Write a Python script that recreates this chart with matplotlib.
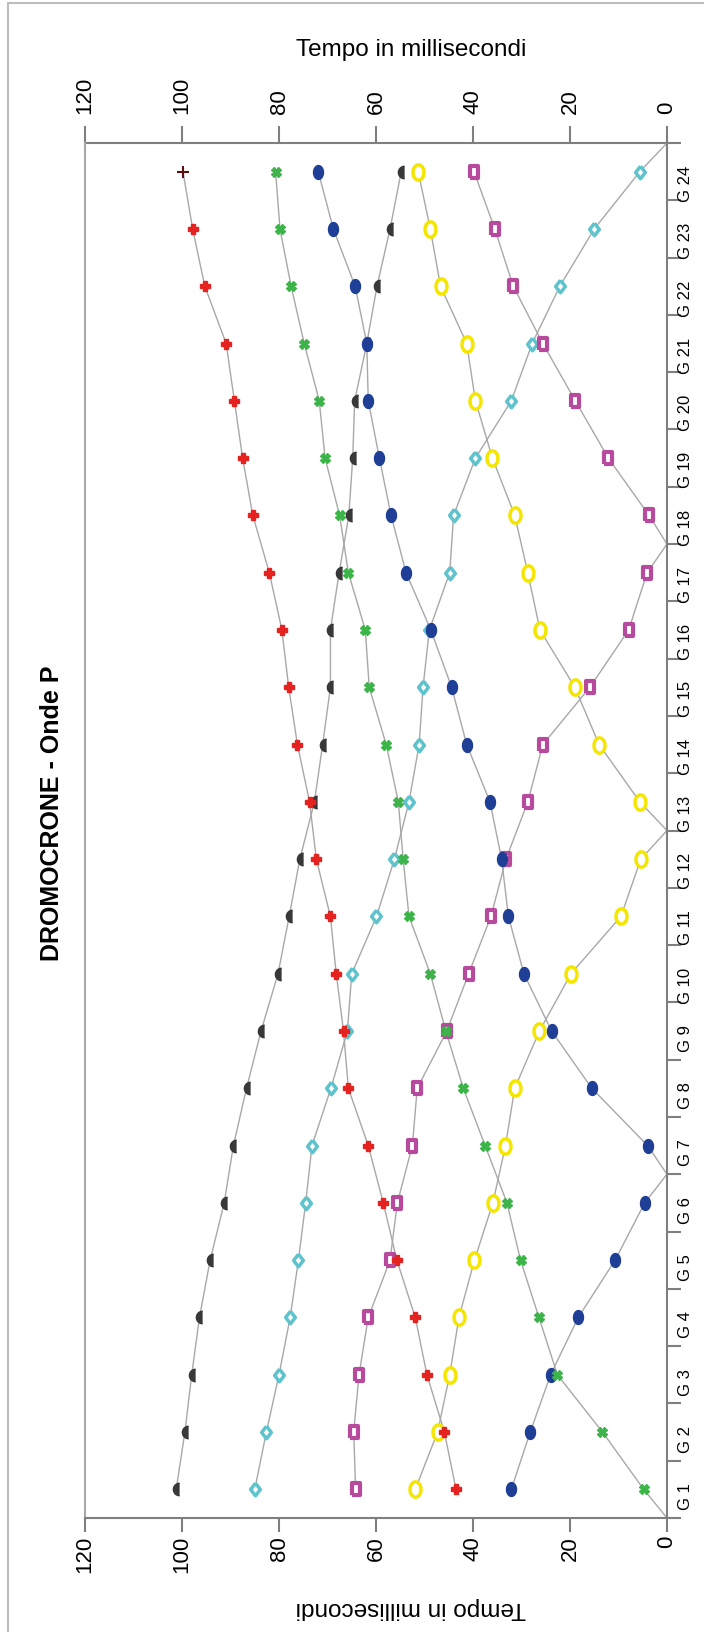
import matplotlib
matplotlib.use("Agg")
import matplotlib.pyplot as plt
from matplotlib.patches import Rectangle
import numpy as np

plt.rcParams['font.family'] = ['Liberation Sans', 'DejaVu Sans']

# ---------------------------------------------------------------- data
geofoni = ["G 1", "G 2", "G 3", "G 4", "G 5", "G 6", "G 7", "G 8",
           "G 9", "G 10", "G 11", "G 12", "G 13", "G 14", "G 15", "G 16",
           "G 17", "G 18", "G 19", "G 20", "G 21", "G 22", "G 23", "G 24"]

# tempi di arrivo (ms) per ogni geofono, uno per energizzazione
tempi_nero = [101.2, 99.4, 98.0, 96.4, 94.2, 91.3, 89.4, 86.7, 83.7, 80.2, 77.9, 75.7,
              72.7, 71.0, 69.4, 69.4, 67.6, 65.6, 64.8, 64.4, 61.9, 59.8, 57.1, 54.8]
tempi_ciano = [85.0, 82.6, 80.0, 77.7, 76.0, 74.5, 73.2, 69.3, 65.9, 65.0, 59.9, 56.2,
               53.2, 51.1, 50.3, 49.0, 44.8, 44.0, 39.5, 32.1, 27.8, 22.1, 15.0, 5.6]
tempi_magenta = [64.2, 64.6, 63.5, 61.6, 57.1, 55.6, 52.5, 51.5, 45.4, 40.9, 36.3, 33.2,
                 28.7, 25.6, 15.9, 7.9, 4.1, 3.7, 12.1, 18.9, 25.6, 31.7, 35.5, 39.8]
tempi_giallo = [51.9, 47.3, 44.8, 42.9, 39.7, 35.9, 33.3, 31.4, 26.3, 19.8, 9.5, 5.4,
                5.6, 14.0, 19.0, 26.2, 28.7, 31.4, 36.0, 39.5, 41.3, 46.7, 48.8, 51.3]
tempi_rosso = [43.5, 45.9, 49.5, 51.9, 55.7, 58.5, 61.6, 65.7, 66.7, 68.2, 69.4, 72.3,
               73.7, 76.2, 78.0, 79.4, 82.0, 85.4, 87.5, 89.2, 90.9, 95.3, 97.8, 99.8]
tempi_blu = [32.1, 28.2, 24.0, 18.3, 10.7, 4.6, 4.0, 15.5, 23.8, 29.5, 32.7, 34.1,
             36.5, 41.3, 44.4, 48.7, 53.8, 56.9, 59.3, 61.6, 61.9, 64.3, 68.8, 71.9]
tempi_verde = [4.8, 13.3, 22.6, 26.4, 30.2, 33.0, 37.5, 42.0, 45.6, 48.8, 53.2, 54.4,
               55.4, 57.9, 61.4, 62.2, 65.7, 67.5, 70.5, 71.7, 74.8, 77.5, 79.8, 80.7]

# posizione dei punti di scoppio (tempo zero) lungo lo stendimento
scoppio_verde = 0.5
scoppio_blu = 6.5
scoppio_giallo = 12.5
scoppio_magenta = 17.5
scoppio_ciano = 24.5

tempo_ticks = [0, 20, 40, 60, 80, 100, 120]

# ---------------------------------------------------------------- markers
t = np.linspace(0, 2 * np.pi, 41)
ellisse = list(zip(0.72 * np.cos(t), np.sin(t)))
cupola = list(zip(np.concatenate([[0.5], 0.5 - 1.0 * np.sin(np.linspace(0, np.pi, 21)), [0.5]]),
                  np.concatenate([[1], np.cos(np.linspace(0, np.pi, 21)), [-1]])))
rombo = [(0, 1), (0.78, 0), (0, -1), (-0.78, 0), (0, 1)]
rettangolo = [(-0.75, -1), (0.75, -1), (0.75, 1), (-0.75, 1), (-0.75, -1)]

posizioni = list(range(1, 25))


def traccia(ax, tempi, scoppio=None, **stile):
    pos = list(posizioni)
    val = list(tempi)
    if scoppio is not None:
        i = int(np.searchsorted(pos, scoppio))
        pos.insert(i, scoppio)
        val.insert(i, 0)
    ax.plot(val, pos, color='#a8a8a8', lw=1.0, zorder=2, clip_on=False)
    ax.plot(tempi, posizioni, ls='none', zorder=3, clip_on=False, **stile)


fig = plt.figure(figsize=(7.04, 16.32), dpi=100)
ax = fig.add_axes([85 / 704, 1 - 1518 / 1632, (667 - 85) / 704, (1518 - 143) / 1632])

traccia(ax, tempi_nero, marker=cupola, ms=9, color='#383838')
traccia(ax, tempi_ciano, scoppio_ciano, marker=rombo, ms=9, mfc='white', mec='#5ec3cc', mew=2.5)
traccia(ax, tempi_magenta, scoppio_magenta, marker=rettangolo, ms=8, mfc='white', mec='#b84a9e', mew=3)
traccia(ax, tempi_giallo, scoppio_giallo, marker=ellisse, ms=11, mfc='white', mec='#f5e600', mew=2.5)
# rosso: l'ultimo punto ha un marker diverso
ax.plot(tempi_rosso, posizioni, color='#a8a8a8', lw=1.0, zorder=2)
ax.plot(tempi_rosso[:-1], posizioni[:-1], ls='none', marker='P', ms=7, color='#e42320', zorder=3)
ax.plot(tempi_rosso[-1:], posizioni[-1:], ls='none', marker='+', ms=8, mew=1.5, color='#5a1010', zorder=3)
traccia(ax, tempi_blu, scoppio_blu, marker=ellisse, ms=10, color='#1f3f96')
traccia(ax, tempi_verde, scoppio_verde, marker='X', ms=7, color='#3cb44a')

ax.set_xlim(120, 0)
ax.set_ylim(0.5, 24.5)

grigio = '#7f7f7f'
for s in ['bottom', 'right']:
    ax.spines[s].set_color(grigio)
    ax.spines[s].set_linewidth(1.5)
ax.spines['left'].set_color('#a8a8a8')
ax.spines['left'].set_linewidth(1.5)
ax.spines['top'].set_visible(False)

ax.set_xticks(tempo_ticks)
ax.tick_params(axis='x', bottom=True, top=False, direction='out', length=10, width=1.5,
               color=grigio, labelsize=16, pad=3, labelrotation=90)

sec = ax.secondary_xaxis('top')
sec.set_xticks(tempo_ticks)
sec.spines['top'].set_color(grigio)
sec.spines['top'].set_linewidth(1.5)
sec.tick_params(axis='x', direction='out', length=12, width=1.5, color=grigio,
                labelsize=16, pad=9, labelrotation=90)

ax.yaxis.tick_right()
ax.set_yticks(np.arange(0.5, 25, 1))
ax.set_yticks(posizioni, minor=True)
ax.set_yticklabels([])
ax.set_yticklabels(geofoni, minor=True)
ax.tick_params(axis='y', which='major', right=True, left=False, direction='out',
               length=10, width=1.5, color=grigio)
ax.tick_params(axis='y', which='minor', right=True, left=False, length=0,
               labelsize=12, pad=8, labelrotation=90)

fig.text(411 / 704, 1 - 50 / 1632, "Tempo in millisecondi", fontsize=17.5,
         ha='center', va='center')
fig.text(411 / 704, 1 - 1608 / 1632, "Tempo in millisecondi", fontsize=17.5,
         ha='center', va='center', rotation=180)
fig.text(52 / 704, 1 - 813 / 1632, "DROMOCRONE - Onde P", fontsize=18,
         fontweight='bold', ha='center', va='center', rotation=90)

# cornice esterna
fig.patches.append(Rectangle((8 / 704, -0.01), 1.0, 1 - 3 / 1632 + 0.01,
                             transform=fig.transFigure, fill=False,
                             ec='#bdbdbd', lw=1.5))

fig.savefig("out.png", dpi=100)
